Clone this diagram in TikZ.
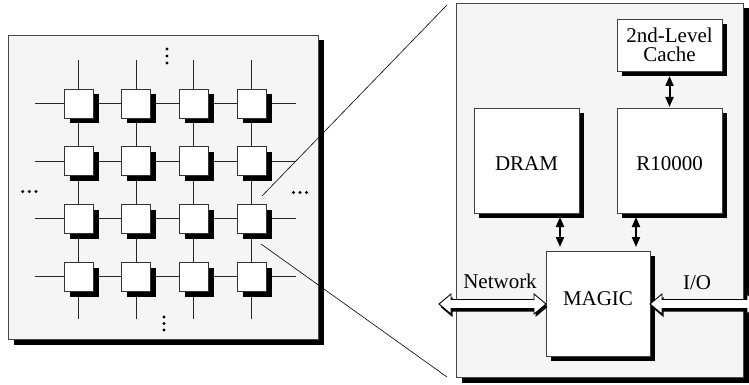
\documentclass[tikz,border=0pt]{standalone}
\usepackage{fontspec}
\setmainfont{Liberation Serif}
\usetikzlibrary{calc,arrows.meta}
\pgfdeclarelayer{back}
\pgfdeclarelayer{bg}
\pgfsetlayers{back,bg,main}
\definecolor{panelgray}{HTML}{F5F5F5}
\newcommand\hollowdbl[2]{%
  \fill[black, transform canvas={shift={(1.5pt,-3pt)}}]
    (#1) -- ($(#1)+(12,-10)$) -- ($(#1)+(12,-4.5)$) -- ($(#2)+(-12,-4.5)$) -- ($(#2)+(-12,-10)$) -- (#2)
    -- ($(#2)+(-12,10)$) -- ($(#2)+(-12,4.5)$) -- ($(#1)+(12,4.5)$) -- ($(#1)+(12,10)$) -- cycle;
  \draw[fill=white, draw=black, line width=0.9pt]
    (#1) -- ($(#1)+(12,-10)$) -- ($(#1)+(12,-4.5)$) -- ($(#2)+(-12,-4.5)$) -- ($(#2)+(-12,-10)$) -- (#2)
    -- ($(#2)+(-12,10)$) -- ($(#2)+(-12,4.5)$) -- ($(#1)+(12,4.5)$) -- ($(#1)+(12,10)$) -- cycle;
}
\begin{document}
\begin{tikzpicture}[x=1pt,y=-1pt,
  shadowed/.style={preaction={fill=black, draw=none, transform canvas={shift={(#1pt,-#1pt)}}}},
  panel/.style={draw=gray!55!black, line width=0.8pt, fill=panelgray, inner sep=0pt, outer sep=0pt,
    anchor=north west, shadowed=5.5},
  box/.style={draw=gray!50!black, line width=0.7pt, fill=white, inner sep=0pt, outer sep=0pt,
    anchor=north west, font=\fontsize{21}{19}\selectfont, shadowed=5},
  gnode/.style={draw=gray!40!black, line width=0.7pt, fill=white, inner sep=0pt, outer sep=0pt,
    minimum size=29pt, shadowed=5.5},
  gline/.style={draw=black!85, line width=0.9pt},
  zoomline/.style={draw=black, line width=0.6pt},
  smallarr/.style={line width=2pt, {Triangle[length=10pt,width=8pt]}-{Triangle[length=10pt,width=8pt]}},
  lbl/.style={font=\fontsize{21}{19}\selectfont, inner sep=0pt, anchor=base},
  dot/.style={fill=black, draw=none}
]
\useasboundingbox (0,0) rectangle (749,385);

% panels
\begin{pgfonlayer}{back}
\node[panel, minimum width=310pt, minimum height=304pt] (leftpanel) at (8,35) {};
\node[panel, minimum width=287pt, minimum height=374pt] (rightpanel) at (456,3) {};
\end{pgfonlayer}

% grid nodes
\foreach \i in {0,...,3}{
  \foreach \j in {0,...,3}{
    \node[gnode] (g\i\j) at ({78.5+57.67*\i},{103.5+57.67*\j}) {};
  }
}
% grid lines
\begin{pgfonlayer}{bg}
\foreach \i in {0,...,3}{
  \coordinate (top\i) at ({78.5+57.67*\i},60);
  \coordinate (bot\i) at ({78.5+57.67*\i},319);
  \coordinate (lft\i) at (35,{103.5+57.67*\i});
  \coordinate (rgt\i) at (296,{103.5+57.67*\i});
  \draw[gline] (top\i) -- (g\i0) -- (g\i1) -- (g\i2) -- (g\i3) -- (bot\i);
  \draw[gline] (lft\i) -- (g0\i) -- (g1\i) -- (g2\i) -- (g3\i) -- (rgt\i);
}
\end{pgfonlayer}

% ellipsis dots
\foreach \y in {49,56,63}{ \fill[dot] (167,\y) circle (1.7); }
\foreach \y in {317,323.5,330}{ \fill[dot] (164,\y) circle (1.7); }
\foreach \x in {22.7,29.3,36}{ \fill[dot] (\x,191.5) circle (1.7); }
\foreach \x in {293.5,300,306.5}{ \fill[dot] (\x,192.5) circle (1.7); }

% zoom lines
\coordinate (zu) at (262,196);
\coordinate (zl) at (261,244);
\coordinate (zuend) at (447,5);
\coordinate (zlend) at (447,377);
\draw[zoomline] (zu) -- (zuend);
\draw[zoomline] (zl) -- (zlend);

% node boxes
\node[box, minimum width=105pt, minimum height=52pt, align=center] (cache) at (617,19)
  {2nd-Level\\Cache};
\node[box, minimum width=105pt, minimum height=105pt, text height=19pt, text depth=0pt] (dram) at (474,108) {DRAM};
\node[box, minimum width=105pt, minimum height=105pt, text height=19pt, text depth=0pt] (r10k) at (617,108) {R10000};
\node[box, minimum width=104pt, minimum height=105pt, text height=14pt, text depth=10.5pt] (magic) at (546,251) {MAGIC};

% small arrows
\draw[smallarr, shorten <=5pt, shorten >=1pt] (cache.south) -- (r10k.north);
\draw[smallarr, shorten <=4pt, shorten >=4pt] ([xshift=14pt]dram.south -| magic.west) -- ([xshift=14pt]magic.north west);
\draw[smallarr, shorten <=4pt, shorten >=4pt] ([xshift=-14pt]r10k.south -| magic.east) -- ([xshift=-14pt]magic.north east);

% wide arrows
\coordinate (netL) at (439,304);
\coordinate (ioR) at (759,304);
\hollowdbl{netL}{magic.west |- netL}
\hollowdbl{magic.east |- ioR}{ioR}

\node[lbl] (netlbl) at (500,288) {Network};
\node[lbl] (iolbl) at (697,289) {I/O};
\end{tikzpicture}
\end{document}
